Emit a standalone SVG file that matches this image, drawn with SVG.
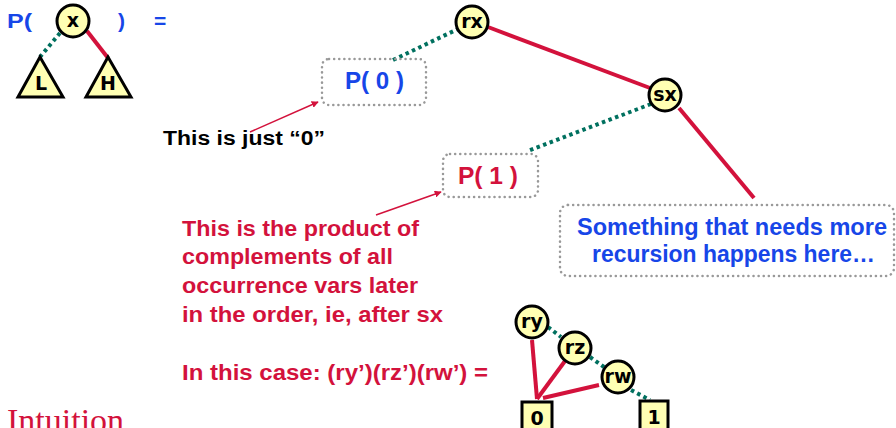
<svg xmlns="http://www.w3.org/2000/svg" width="896" height="428" viewBox="0 0 896 428">
<defs>
<style>
.t{font-family:"Liberation Sans",Arial,sans-serif;font-weight:bold}
.blue{fill:#1746e8}
.red{fill:#d3123c}
.blk{fill:#000}
.nd{fill:#ffffb3;stroke:#000;stroke-width:3}
.nl{font-family:"DejaVu Sans",Verdana,sans-serif;font-weight:bold;font-size:19px;fill:#000;text-anchor:middle}
.hi{stroke:#d3123c;stroke-width:4;fill:none}
.lo{stroke:#00705f;stroke-width:4;stroke-dasharray:3.5 3.5;fill:none}
.box{fill:none;stroke:#999;stroke-width:2.5;stroke-dasharray:0.1 5;stroke-linecap:round}
.ar{stroke:#d3123c;stroke-width:1.5;fill:none}
</style>
<marker id="ah" viewBox="0 0 10 10" refX="9" refY="5" markerWidth="7" markerHeight="7" orient="auto" markerUnits="userSpaceOnUse">
<path d="M0,0 L10,5 L0,10 z" fill="#d3123c"/>
</marker>
</defs>
<g id="connectors">
<line class="lo" x1="60" y1="33" x2="40" y2="57"/>
<line class="hi" x1="87" y1="31" x2="108" y2="58"/>
<line class="lo" x1="393" y1="60" x2="458" y2="29"/>
<line class="hi" x1="488" y1="27" x2="650" y2="88"/>
<line class="lo" x1="651" y1="104" x2="528" y2="151"/>
<line class="hi" x1="679" y1="108" x2="754" y2="198"/>
<line class="lo" x1="548" y1="327" x2="561" y2="337"/>
<line class="lo" x1="590" y1="357" x2="604" y2="367"/>
<line class="lo" x1="631" y1="390" x2="650" y2="400"/>
<line class="hi" x1="532" y1="340" x2="537" y2="399"/>
<line class="hi" x1="565" y1="361" x2="537" y2="399"/>
<line class="hi" x1="599" y1="385" x2="543" y2="398"/>
<line class="ar" x1="250" y1="132" x2="318" y2="102" marker-end="url(#ah)"/>
<line class="ar" x1="376" y1="215" x2="441" y2="192" marker-end="url(#ah)"/>
</g>
<g id="formula">
<text class="t blue" x="7" y="28" font-size="21" textLength="25" lengthAdjust="spacingAndGlyphs">P(</text>
<text class="t blue" x="118" y="28" font-size="21">)</text>
<text class="t blue" x="154" y="28" font-size="21">=</text>
</g>
<g id="node-x"><circle class="nd" cx="73" cy="21" r="16"/><text class="nl" x="73" y="27">x</text></g>
<g id="node-L"><polygon class="nd" points="40,57 18,97 63,97"/><text class="nl" x="41" y="90" font-size="20">L</text></g>
<g id="node-H"><polygon class="nd" points="108,57 86,97 131,97"/><text class="nl" x="108" y="90" font-size="20">H</text></g>
<g id="node-rx"><circle class="nd" cx="472" cy="22" r="16"/><text class="nl" x="472" y="28">rx</text></g>
<g id="node-sx"><circle class="nd" cx="665" cy="95" r="16"/><text class="nl" x="665" y="101">sx</text></g>
<g id="node-P0"><rect class="box" x="322" y="59" width="104" height="46" rx="7"/><text class="t blue" x="345" y="89" font-size="23" textLength="59" lengthAdjust="spacingAndGlyphs">P( 0 )</text></g>
<g id="node-P1"><rect class="box" x="443" y="154" width="95" height="43" rx="7"/><text class="t red" x="458" y="184" font-size="23" textLength="60" lengthAdjust="spacingAndGlyphs">P( 1 )</text></g>
<g id="node-more"><rect class="box" x="560" y="205" width="334" height="71" rx="8"/>
<text class="t blue" x="577" y="235" font-size="23" textLength="310" lengthAdjust="spacingAndGlyphs">Something that needs more</text>
<text class="t blue" x="592" y="262" font-size="23" textLength="283" lengthAdjust="spacingAndGlyphs">recursion happens here…</text></g>
<g id="note-zero"><text class="t blk" x="163" y="145" font-size="20" textLength="162" lengthAdjust="spacingAndGlyphs">This is just “0”</text></g>
<g id="note-product">
<text class="t red" x="182" y="236" font-size="22" textLength="237" lengthAdjust="spacingAndGlyphs">This is the product of</text>
<text class="t red" x="182" y="264" font-size="22" textLength="211" lengthAdjust="spacingAndGlyphs">complements of all</text>
<text class="t red" x="182" y="293" font-size="22" textLength="236" lengthAdjust="spacingAndGlyphs">occurrence vars later</text>
<text class="t red" x="182" y="322" font-size="22" textLength="261" lengthAdjust="spacingAndGlyphs">in the order, ie, after sx</text>
<text class="t red" x="182" y="380" font-size="22" textLength="306" lengthAdjust="spacingAndGlyphs">In this case: (ry’)(rz’)(rw’) =</text>
</g>
<g id="node-ry"><circle class="nd" cx="532" cy="322" r="16"/><text class="nl" x="532" y="328">ry</text></g>
<g id="node-rz"><circle class="nd" cx="575" cy="348" r="16"/><text class="nl" x="575" y="354">rz</text></g>
<g id="node-rw"><circle class="nd" cx="618" cy="377" r="16"/><text class="nl" x="618" y="383">rw</text></g>
<g id="node-0"><rect class="nd" x="522" y="402" width="30" height="30"/><text class="nl" x="537" y="425">0</text></g>
<g id="node-1"><rect class="nd" x="640" y="401" width="28" height="30"/><text class="nl" x="654" y="424">1</text></g>
<g id="title"><text x="7" y="432" font-family="Liberation Serif,serif" font-size="34" fill="#d3123c">Intuition</text></g>
</svg>
